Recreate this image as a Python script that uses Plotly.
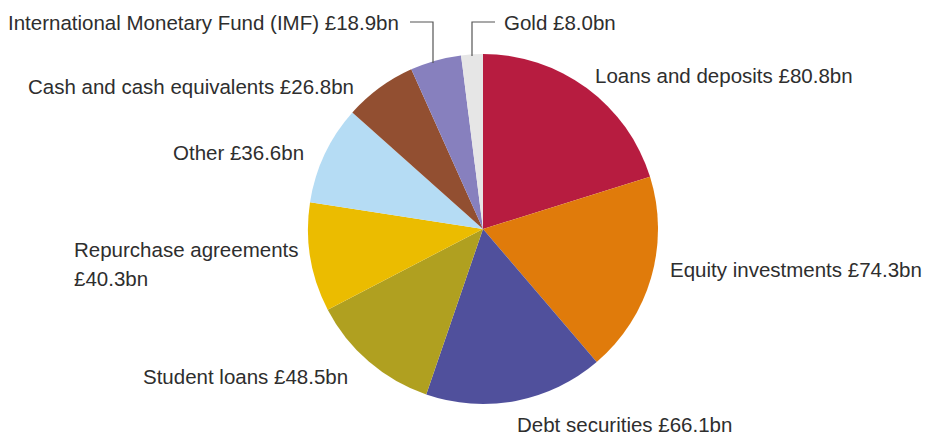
import plotly.graph_objects as go

# Asset breakdown, clockwise from 12 o'clock
labels = [
    "Loans and deposits",
    "Equity investments",
    "Debt securities",
    "Student loans",
    "Repurchase agreements",
    "Other",
    "Cash and cash equivalents",
    "International Monetary Fund (IMF)",
    "Gold",
]
values = [80.8, 74.3, 66.1, 48.5, 40.3, 36.6, 26.8, 18.9, 8.0]
colors = [
    "#B71C40", "#E07B0B", "#50509C", "#B0A020", "#EBBC00",
    "#B5DCF4", "#924F31", "#8780BE", "#E6E6E6",
]

W, H = 937, 435
cx, cy, r = 483, 229, 175

fig = go.Figure(go.Pie(
    labels=labels,
    values=values,
    marker=dict(colors=colors, line=dict(width=0)),
    sort=False,
    direction="clockwise",
    rotation=0,
    textinfo="none",
    hoverinfo="label+value",
    domain=dict(x=[(cx - r) / W, (cx + r) / W], y=[1 - (cy + r) / H, 1 - (cy - r) / H]),
))

# label placement (pixel x, pixel y, anchor) for each slice;
# two spots means the value goes on its own line
label_pos = [
    [(593, 75, "left")],
    [(668, 269, "left")],
    [(515, 424, "left")],
    [(350, 376, "right")],
    [(72, 250, "left"), (72, 278, "left")],
    [(306, 152, "right")],
    [(356, 86, "right")],
    [(401, 22, "right")],
    [(502, 22, "left")],
]

font = dict(family="Liberation Sans, Arial, sans-serif", size=20.5, color="#2e2e2e")

annotations = []
for name, val, spots in zip(labels, values, label_pos):
    amount = f"£{val:.1f}bn"
    texts = [f"{name} {amount}"] if len(spots) == 1 else [name, amount]
    for txt, (px, py, anc) in zip(texts, spots):
        annotations.append(dict(
            x=px / W, y=1 - py / H, xref="paper", yref="paper",
            text=txt, showarrow=False, xanchor=anc, yanchor="middle",
            font=font,
        ))

# leader lines for the two small slices
def leader(points):
    path = "M " + " L ".join(f"{x / W},{1 - y / H}" for x, y in points)
    return dict(type="path", path=path, xref="paper", yref="paper",
                line=dict(color="#555555", width=1.2))

shapes = [
    leader([(410, 22), (433, 22), (433, 63)]),
    leader([(495, 22), (472, 22), (472, 56)]),
]

fig.update_layout(
    width=W, height=H,
    margin=dict(l=0, r=0, t=0, b=0),
    paper_bgcolor="white",
    plot_bgcolor="white",
    showlegend=False,
    annotations=annotations,
    shapes=shapes,
)

fig.write_html("out.html")
